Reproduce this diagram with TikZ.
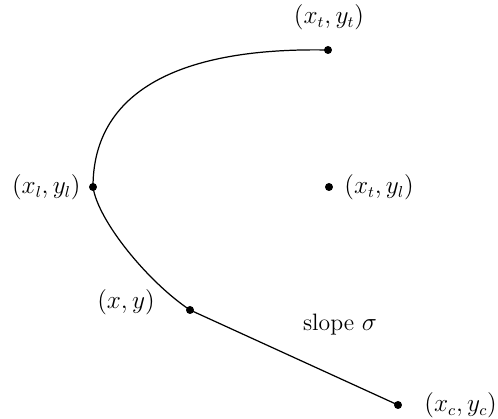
\documentclass[tikz,border=0pt]{standalone}
\usepackage{amsmath,amssymb}
\usetikzlibrary{positioning}

\begin{document}
\begin{tikzpicture}[x=0.02cm,y=0.02cm]
\tikzset{vertex/.style = {shape=circle,fill,inner sep=0pt,minimum size=0.16cm}}
\tikzset{lbl/.style = {font=\fontsize{13.5}{16}\selectfont,inner sep=1pt}}
\useasboundingbox (0,0) rectangle (498,419);
% points
\node[vertex] (pt) at (328,369) {};
\node[vertex] (pl) at (93,232) {};
\node[vertex] (pm) at (329,232) {};
\node[vertex] (pxy) at (190,109) {};
\node[vertex] (pc) at (398,14) {};
% labels
\node[lbl] (lt) at (329,402) {$(x_t,y_t)$};
\node[lbl,left=0.12cm of pl] (ll) {$(x_l,y_l)$};
\node[lbl,right=0.18cm of pm] (lm) {$(x_t,y_l)$};
\node[lbl] (lxy) at (126,117) {$(x,y)$};
\node[lbl,right=0.4cm of pc] (lc) {$(x_c,y_c)$};
\node[lbl] (ls) at (340,94) {slope $\sigma$};
% curve
\draw[line width=0.7pt] (pt.center) .. controls (170,372) and (93,322) .. (pl.center);
\draw[line width=0.7pt] (pl.center) .. controls (98,198) and (148,137) .. (pxy.center);
\draw[line width=0.7pt] (pxy.center) -- (pc.center);
\end{tikzpicture}
\end{document}
